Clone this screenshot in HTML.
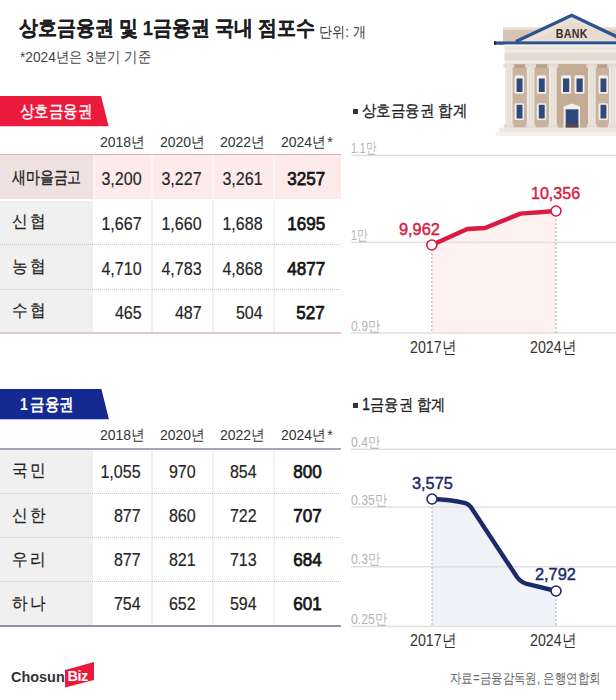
<!DOCTYPE html>
<html><head><meta charset="utf-8">
<style>
*{margin:0;padding:0;box-sizing:border-box}
html,body{width:616px;height:700px;overflow:hidden;background:#fff}
body{position:relative;font-family:"Liberation Sans",sans-serif;color:#222}
.a{position:absolute;white-space:nowrap;line-height:1;transform-origin:0 0}
.ar{text-align:right;transform-origin:100% 0}
</style></head><body>
<div class="a" style="left:19.03px;top:17.98px;font-size:20.5px;font-weight:bold;color:#1e1e1e;transform:scaleX(0.901);-webkit-text-stroke:0.25px #1e1e1e">상호금융권 및 1금융권 국내 점포수</div>
<div class="a" style="left:318.66px;top:23.73px;font-size:15.4px;font-weight:normal;color:#333;transform:scaleX(0.872);">단위: 개</div>
<div class="a" style="left:19.86px;top:49.48px;font-size:15.4px;font-weight:normal;color:#444;transform:scaleX(0.889);">*2024년은 3분기 기준</div>
<svg class="a" style="left:488px;top:8px" width="128" height="130" viewBox="488 8 128 130">
  <rect x="503" y="27.6" width="113" height="14" fill="#d6c3b1"/>
  <rect x="503" y="27.6" width="113" height="2.6" fill="#e8ddd2"/>
  <polygon points="518,41.6 571.7,16 628,41.6" fill="#ebe1d7"/>
  <polygon points="530,41.6 571.7,22 616,36 616,41.6" fill="#e6dbd0"/>
  <polyline points="516,41.5 571.7,15.2 632,44" fill="none" stroke="#2b5390" stroke-width="3.2" stroke-linejoin="miter"/>
  <text x="0" y="0" transform="translate(571.8 37.7) scale(0.82 1)" text-anchor="middle" font-family="Liberation Sans" font-weight="bold" font-size="13" fill="#3d3029" letter-spacing="0.4">BANK</text>
  <rect x="494" y="41.4" width="122" height="3.3" fill="#2b5390"/>
  <rect x="494" y="41.4" width="2.2" height="3.3" fill="#1b2c4d"/>
  <rect x="504.5" y="44.7" width="111.5" height="19.6" fill="#ece5dd"/>
  <rect x="504.5" y="44.7" width="111.5" height="1.6" fill="#f6f2ed"/>
  <rect x="504.5" y="50" width="111.5" height="1.2" fill="#f7f3ef"/>
  <rect x="504.5" y="53.6" width="111.5" height="6.4" fill="#e2d9d0"/>
  <rect x="504.5" y="61.3" width="111.5" height="1.2" fill="#f6f1ec"/>
  <rect x="505" y="64.3" width="111" height="63.4" fill="#c9b29e"/>
  <rect x="505" y="64.3" width="111" height="3.5" fill="#b9a08b"/>
  <rect x="557" y="64.3" width="31" height="63.4" fill="#c3ab96"/>
  <g fill="#f3eee8">
    <rect x="514.5" y="75.3" width="9.5" height="18.5" rx="1.5"/>
    <rect x="536.8" y="75.3" width="9.5" height="18.5" rx="1.5"/>
    <rect x="561" y="75.3" width="10" height="18.5" rx="1.5"/>
    <rect x="574.5" y="75.3" width="10" height="18.5" rx="1.5"/>
    <rect x="598.5" y="75.3" width="9.5" height="18.5" rx="1.5"/>
    <rect x="514.5" y="103.2" width="9.5" height="16.8" rx="1.5"/>
    <rect x="536.8" y="103.2" width="9.5" height="16.8" rx="1.5"/>
    <rect x="598.5" y="103.2" width="9.5" height="16.8" rx="1.5"/>
    <polygon points="563.6,127.7 563.6,106.5 571.8,103.6 580,106.5 580,127.7"/>
  </g>
  <g fill="#2e4a7c">
    <rect x="516.6" y="78.5" width="5.9" height="13.5"/>
    <rect x="538.8" y="78.5" width="5.9" height="13.5"/>
    <rect x="563" y="78.5" width="6.2" height="13.5"/>
    <rect x="576.5" y="78.5" width="6.2" height="13.5"/>
    <rect x="600.5" y="78.5" width="5.9" height="13.5"/>
    <rect x="516.6" y="104.8" width="5.9" height="13.7"/>
    <rect x="538.8" y="104.8" width="5.9" height="13.7"/>
    <rect x="600.5" y="104.8" width="5.9" height="13.7"/>
    <rect x="565.7" y="109.3" width="12.7" height="18.4"/>
  </g>
  <rect x="565.7" y="124" width="12.7" height="3.7" fill="#5a4a45"/>
  <g fill="#eee8e1">
    <rect x="505" y="64.3" width="7.6" height="63.4"/>
    <rect x="526.8" y="64.3" width="7.6" height="63.4"/>
    <rect x="549" y="64.3" width="7.6" height="63.4"/>
    <rect x="588.1" y="64.3" width="7.6" height="63.4"/>
    <rect x="608.9" y="64.3" width="7.6" height="63.4"/>
  </g>
  <g fill="#e4ddd5">
    <rect x="503.3" y="64.3" width="11" height="3.2"/>
    <rect x="525.1" y="64.3" width="11" height="3.2"/>
    <rect x="547.3" y="64.3" width="11" height="3.2"/>
    <rect x="586.4" y="64.3" width="11" height="3.2"/>
    <rect x="607.2" y="64.3" width="11" height="3.2"/>
    <rect x="503.8" y="124.5" width="10" height="3.2"/>
    <rect x="525.6" y="124.5" width="10" height="3.2"/>
    <rect x="547.8" y="124.5" width="10" height="3.2"/>
    <rect x="586.9" y="124.5" width="10" height="3.2"/>
    <rect x="607.7" y="124.5" width="10" height="3.2"/>
  </g>
  <g fill="#ddd5cc">
    <rect x="507.5" y="68" width="0.8" height="56"/>
    <rect x="509.8" y="68" width="0.8" height="56"/>
    <rect x="529.3" y="68" width="0.8" height="56"/>
    <rect x="531.6" y="68" width="0.8" height="56"/>
    <rect x="551.5" y="68" width="0.8" height="56"/>
    <rect x="553.8" y="68" width="0.8" height="56"/>
    <rect x="590.6" y="68" width="0.8" height="56"/>
    <rect x="592.9" y="68" width="0.8" height="56"/>
    <rect x="611.4" y="68" width="0.8" height="56"/>
    <rect x="613.7" y="68" width="0.8" height="56"/>
  </g>
  <rect x="499.2" y="127.7" width="116.8" height="4.1" fill="#eee8e2"/>
  <rect x="496" y="131.8" width="120" height="4.1" fill="#f4f0eb"/>
</svg>

<svg class="a" style="left:0;top:96px" width="112" height="31"><polygon points="0,0 101.1,0 108.6,30.3 0,30.3" fill="#eb1a3c"/></svg>
<div class="a" style="left:20.47px;top:103.08px;font-size:16.5px;font-weight:normal;color:#fff;transform:scaleX(0.852);-webkit-text-stroke:0.35px #fff">상호금융권</div>
<div class="a" style="left:100.30px;top:133.50px;font-size:15.4px;font-weight:normal;color:#333;transform:scaleX(0.909);">2018년</div>
<div class="a" style="left:159.60px;top:133.50px;font-size:15.4px;font-weight:normal;color:#333;transform:scaleX(0.909);">2020년</div>
<div class="a" style="left:219.80px;top:133.50px;font-size:15.4px;font-weight:normal;color:#333;transform:scaleX(0.909);">2022년</div>
<div class="a" style="left:280.50px;top:133.50px;font-size:15.4px;font-weight:normal;color:#333;transform:scaleX(0.909);">2024년<span style="margin-left:1.5px">*</span></div>
<div class="a" style="left:0px;top:154px;width:341px;height:1.2px;background:#dcb0b5;"></div>
<div class="a" style="left:0px;top:155px;width:93px;height:44px;background:#efe0e1;"></div>
<div class="a" style="left:95px;top:155px;width:56px;height:44px;background:#fdebec;"></div>
<div class="a" style="left:153px;top:155px;width:59px;height:44px;background:#fdebec;"></div>
<div class="a" style="left:214px;top:155px;width:59px;height:44px;background:#fdebec;"></div>
<div class="a" style="left:275px;top:155px;width:66px;height:44px;background:#fdebec;"></div>
<div class="a" style="left:93px;top:155px;width:2px;height:44px;background:#fbf3f4;"></div>
<div class="a" style="left:151px;top:155px;width:2px;height:44px;background:#fbf3f4;"></div>
<div class="a" style="left:212px;top:155px;width:2px;height:44px;background:#fbf3f4;"></div>
<div class="a" style="left:273px;top:155px;width:2px;height:44px;background:#fbf3f4;"></div>
<div class="a" style="left:0px;top:201px;width:93px;height:131.5px;background:#f0f0f0;"></div>
<div class="a" style="left:95px;top:201px;width:246px;height:131.5px;background:#ffffff;"></div>
<div class="a" style="left:151px;top:201px;width:2px;height:131.5px;background:#f2f2f2;"></div>
<div class="a" style="left:212px;top:201px;width:2px;height:131.5px;background:#f2f2f2;"></div>
<div class="a" style="left:273px;top:201px;width:2px;height:131.5px;background:#f2f2f2;"></div>
<div class="a" style="left:0;top:244px;width:341px;height:0;border-top:1px dotted #c9c9c9"></div>
<div class="a" style="left:0;top:288.5px;width:341px;height:0;border-top:1px dotted #c9c9c9"></div>
<div class="a" style="left:0px;top:332.3px;width:341px;height:1.6px;background:#e6c6cb;"></div>
<div class="a" style="left:12.35px;top:169.05px;font-size:17px;font-weight:normal;color:#222;transform:scaleX(0.816);-webkit-text-stroke:0.35px #222">새마을금고</div>
<div class="a" style="left:12.00px;top:213.40px;font-size:17px;font-weight:normal;color:#222;transform:scaleX(0.92);letter-spacing:2.6px;-webkit-text-stroke:0.2px #222">신협</div>
<div class="a" style="left:12.00px;top:257.55px;font-size:17px;font-weight:normal;color:#222;transform:scaleX(0.92);letter-spacing:2.6px;-webkit-text-stroke:0.2px #222">농협</div>
<div class="a" style="left:12.00px;top:301.90px;font-size:17px;font-weight:normal;color:#222;transform:scaleX(0.92);letter-spacing:2.6px;-webkit-text-stroke:0.2px #222">수협</div>
<div class="a ar" style="right:474.00px;top:168.80px;font-size:19px;font-weight:normal;color:#262626;transform:scaleX(0.844);-webkit-text-stroke:0.2px #262626">3,200</div>
<div class="a ar" style="right:414.80px;top:168.80px;font-size:19px;font-weight:normal;color:#262626;transform:scaleX(0.844);-webkit-text-stroke:0.2px #262626">3,227</div>
<div class="a ar" style="right:353.30px;top:168.80px;font-size:19px;font-weight:normal;color:#262626;transform:scaleX(0.844);-webkit-text-stroke:0.2px #262626">3,261</div>
<div class="a ar" style="right:291.00px;top:168.80px;font-size:19px;font-weight:normal;color:#141414;transform:scaleX(0.898);-webkit-text-stroke:0.75px #141414">3257</div>
<div class="a ar" style="right:474.00px;top:213.50px;font-size:19px;font-weight:normal;color:#262626;transform:scaleX(0.844);-webkit-text-stroke:0.2px #262626">1,667</div>
<div class="a ar" style="right:414.80px;top:213.50px;font-size:19px;font-weight:normal;color:#262626;transform:scaleX(0.844);-webkit-text-stroke:0.2px #262626">1,660</div>
<div class="a ar" style="right:353.30px;top:213.50px;font-size:19px;font-weight:normal;color:#262626;transform:scaleX(0.844);-webkit-text-stroke:0.2px #262626">1,688</div>
<div class="a ar" style="right:291.00px;top:213.50px;font-size:19px;font-weight:normal;color:#141414;transform:scaleX(0.898);-webkit-text-stroke:0.75px #141414">1695</div>
<div class="a ar" style="right:474.00px;top:258.50px;font-size:19px;font-weight:normal;color:#262626;transform:scaleX(0.844);-webkit-text-stroke:0.2px #262626">4,710</div>
<div class="a ar" style="right:414.80px;top:258.50px;font-size:19px;font-weight:normal;color:#262626;transform:scaleX(0.844);-webkit-text-stroke:0.2px #262626">4,783</div>
<div class="a ar" style="right:353.30px;top:258.50px;font-size:19px;font-weight:normal;color:#262626;transform:scaleX(0.844);-webkit-text-stroke:0.2px #262626">4,868</div>
<div class="a ar" style="right:291.00px;top:258.50px;font-size:19px;font-weight:normal;color:#141414;transform:scaleX(0.898);-webkit-text-stroke:0.75px #141414">4877</div>
<div class="a ar" style="right:474.00px;top:303.20px;font-size:19px;font-weight:normal;color:#262626;transform:scaleX(0.844);-webkit-text-stroke:0.2px #262626">465</div>
<div class="a ar" style="right:414.80px;top:303.20px;font-size:19px;font-weight:normal;color:#262626;transform:scaleX(0.844);-webkit-text-stroke:0.2px #262626">487</div>
<div class="a ar" style="right:353.30px;top:303.20px;font-size:19px;font-weight:normal;color:#262626;transform:scaleX(0.844);-webkit-text-stroke:0.2px #262626">504</div>
<div class="a ar" style="right:291.00px;top:303.20px;font-size:19px;font-weight:normal;color:#141414;transform:scaleX(0.898);-webkit-text-stroke:0.75px #141414">527</div>
<div class="a" style="left:353px;top:109.4px;width:5px;height:5px;background:#333;"></div>
<div class="a" style="left:361.93px;top:102.44px;font-size:16.2px;font-weight:normal;color:#222;transform:scaleX(0.902);-webkit-text-stroke:0.3px #222">상호금융권 합계</div>
<svg class="a" style="left:340px;top:140px" width="276" height="230" viewBox="340 140 276 230">
  <polygon points="431.8,245 467.3,229 485,228 520.5,213.6 556,211 556,333 431.8,333" fill="#fef1f2"/>
  <rect x="351" y="154.7" width="265" height="1.4" fill="#dedede"/>
  <rect x="351" y="241.6" width="265" height="1.4" fill="#dedede"/>
  <rect x="351" y="332.3" width="265" height="1.4" fill="#dedede"/>
  <line x1="431.8" y1="245" x2="431.8" y2="333" stroke="#c9a4aa" stroke-width="1" stroke-dasharray="2,2"/>
  <line x1="556" y1="211" x2="556" y2="333" stroke="#c9a4aa" stroke-width="1" stroke-dasharray="2,2"/>
  <polyline points="431.8,245 467.3,229 485,228 520.5,213.6 556,211" fill="none" stroke="#da1a41" stroke-width="4.4" stroke-linejoin="round"/>
  <circle cx="431.8" cy="245" r="5" fill="#fff" stroke="#da1a41" stroke-width="1.6"/>
  <circle cx="556" cy="211" r="5" fill="#fff" stroke="#da1a41" stroke-width="1.6"/>
</svg>
<div class="a" style="left:350.88px;top:140.00px;font-size:15px;font-weight:normal;color:#b4b4b4;transform:scaleX(0.7);">1.1만</div>
<div class="a" style="left:350.88px;top:226.90px;font-size:15px;font-weight:normal;color:#b4b4b4;transform:scaleX(0.7);">1만</div>
<div class="a" style="left:350.88px;top:317.60px;font-size:15px;font-weight:normal;color:#b4b4b4;transform:scaleX(0.82);">0.9만</div>
<div class="a" style="left:399.29px;top:221.05px;font-size:17px;font-weight:normal;color:#da1a41;transform:scaleX(0.961);-webkit-text-stroke:0.45px #da1a41">9,962</div>
<div class="a" style="left:530.59px;top:184.50px;font-size:17px;font-weight:normal;color:#da1a41;transform:scaleX(0.945);-webkit-text-stroke:0.45px #da1a41">10,356</div>
<div class="a" style="left:410.09px;top:339.05px;font-size:16.5px;font-weight:normal;color:#333;transform:scaleX(0.86);">2017년</div>
<div class="a" style="left:530.39px;top:339.05px;font-size:16.5px;font-weight:normal;color:#333;transform:scaleX(0.86);">2024년</div>
<svg class="a" style="left:0;top:389px" width="112" height="31"><polygon points="0,0 101.4,0 108.9,30.3 0,30.3" fill="#142a92"/></svg>
<div class="a" style="left:20.04px;top:395.58px;font-size:16.5px;font-weight:bold;color:#fff;transform:scaleX(0.852);"><span style="margin-right:3px">1</span>금융권</div>
<div class="a" style="left:100.30px;top:427.45px;font-size:15.4px;font-weight:normal;color:#333;transform:scaleX(0.909);">2018년</div>
<div class="a" style="left:159.60px;top:427.45px;font-size:15.4px;font-weight:normal;color:#333;transform:scaleX(0.909);">2020년</div>
<div class="a" style="left:219.80px;top:427.45px;font-size:15.4px;font-weight:normal;color:#333;transform:scaleX(0.909);">2022년</div>
<div class="a" style="left:280.50px;top:427.45px;font-size:15.4px;font-weight:normal;color:#333;transform:scaleX(0.909);">2024년<span style="margin-left:1.5px">*</span></div>
<div class="a" style="left:0px;top:448.2px;width:341px;height:1.6px;background:#a3a6b8;"></div>
<div class="a" style="left:0px;top:450px;width:93px;height:176px;background:#f0f0f0;"></div>
<div class="a" style="left:95px;top:450px;width:246px;height:176px;background:#ffffff;"></div>
<div class="a" style="left:151px;top:450px;width:2px;height:176px;background:#f2f2f2;"></div>
<div class="a" style="left:212px;top:450px;width:2px;height:176px;background:#f2f2f2;"></div>
<div class="a" style="left:273px;top:450px;width:2px;height:176px;background:#f2f2f2;"></div>
<div class="a" style="left:0;top:493px;width:341px;height:0;border-top:1px dotted #c9c9c9"></div>
<div class="a" style="left:0;top:537px;width:341px;height:0;border-top:1px dotted #c9c9c9"></div>
<div class="a" style="left:0;top:581px;width:341px;height:0;border-top:1px dotted #c9c9c9"></div>
<div class="a" style="left:0px;top:625.4px;width:341px;height:1.5px;background:#8f93a3;"></div>
<div class="a" style="left:12.00px;top:462.35px;font-size:17px;font-weight:normal;color:#222;transform:scaleX(0.92);letter-spacing:2.6px;-webkit-text-stroke:0.2px #222">국민</div>
<div class="a" style="left:12.00px;top:506.75px;font-size:17px;font-weight:normal;color:#222;transform:scaleX(0.92);letter-spacing:2.6px;-webkit-text-stroke:0.2px #222">신한</div>
<div class="a" style="left:12.00px;top:550.65px;font-size:17px;font-weight:normal;color:#222;transform:scaleX(0.92);letter-spacing:2.6px;-webkit-text-stroke:0.2px #222">우리</div>
<div class="a" style="left:12.00px;top:594.65px;font-size:17px;font-weight:normal;color:#222;transform:scaleX(0.92);letter-spacing:2.6px;-webkit-text-stroke:0.2px #222">하나</div>
<div class="a ar" style="right:475.70px;top:462.00px;font-size:19px;font-weight:normal;color:#262626;transform:scaleX(0.844);-webkit-text-stroke:0.2px #262626">1,055</div>
<div class="a ar" style="right:420.00px;top:462.00px;font-size:19px;font-weight:normal;color:#262626;transform:scaleX(0.844);-webkit-text-stroke:0.2px #262626">970</div>
<div class="a ar" style="right:359.40px;top:462.00px;font-size:19px;font-weight:normal;color:#262626;transform:scaleX(0.844);-webkit-text-stroke:0.2px #262626">854</div>
<div class="a ar" style="right:294.80px;top:462.00px;font-size:19px;font-weight:normal;color:#141414;transform:scaleX(0.898);-webkit-text-stroke:0.75px #141414">800</div>
<div class="a ar" style="right:475.70px;top:506.40px;font-size:19px;font-weight:normal;color:#262626;transform:scaleX(0.844);-webkit-text-stroke:0.2px #262626">877</div>
<div class="a ar" style="right:420.00px;top:506.40px;font-size:19px;font-weight:normal;color:#262626;transform:scaleX(0.844);-webkit-text-stroke:0.2px #262626">860</div>
<div class="a ar" style="right:359.40px;top:506.40px;font-size:19px;font-weight:normal;color:#262626;transform:scaleX(0.844);-webkit-text-stroke:0.2px #262626">722</div>
<div class="a ar" style="right:294.80px;top:506.40px;font-size:19px;font-weight:normal;color:#141414;transform:scaleX(0.898);-webkit-text-stroke:0.75px #141414">707</div>
<div class="a ar" style="right:475.70px;top:550.30px;font-size:19px;font-weight:normal;color:#262626;transform:scaleX(0.844);-webkit-text-stroke:0.2px #262626">877</div>
<div class="a ar" style="right:420.00px;top:550.30px;font-size:19px;font-weight:normal;color:#262626;transform:scaleX(0.844);-webkit-text-stroke:0.2px #262626">821</div>
<div class="a ar" style="right:359.40px;top:550.30px;font-size:19px;font-weight:normal;color:#262626;transform:scaleX(0.844);-webkit-text-stroke:0.2px #262626">713</div>
<div class="a ar" style="right:294.80px;top:550.30px;font-size:19px;font-weight:normal;color:#141414;transform:scaleX(0.898);-webkit-text-stroke:0.75px #141414">684</div>
<div class="a ar" style="right:475.70px;top:594.30px;font-size:19px;font-weight:normal;color:#262626;transform:scaleX(0.844);-webkit-text-stroke:0.2px #262626">754</div>
<div class="a ar" style="right:420.00px;top:594.30px;font-size:19px;font-weight:normal;color:#262626;transform:scaleX(0.844);-webkit-text-stroke:0.2px #262626">652</div>
<div class="a ar" style="right:359.40px;top:594.30px;font-size:19px;font-weight:normal;color:#262626;transform:scaleX(0.844);-webkit-text-stroke:0.2px #262626">594</div>
<div class="a ar" style="right:294.80px;top:594.30px;font-size:19px;font-weight:normal;color:#141414;transform:scaleX(0.898);-webkit-text-stroke:0.75px #141414">601</div>
<div class="a" style="left:353px;top:403px;width:5px;height:5px;background:#333;"></div>
<div class="a" style="left:361.92px;top:396.19px;font-size:16.2px;font-weight:normal;color:#222;transform:scaleX(0.891);-webkit-text-stroke:0.3px #222">1금융권 합계</div>
<svg class="a" style="left:340px;top:430px" width="276" height="210" viewBox="340 430 276 210">
  <path d="M432,499 Q450,499.4 465.5,503.2 Q469,504.4 471,507.3 L517,577 Q521,582.2 526,583.6 L556,591 L556,626 L432,626 Z" fill="#f0f2f7"/>
  <rect x="351" y="448.6" width="265" height="1.4" fill="#dedede"/>
  <rect x="351" y="506.4" width="265" height="1.4" fill="#dedede"/>
  <rect x="351" y="566.1" width="265" height="1.4" fill="#dedede"/>
  <rect x="351" y="625.7" width="265" height="1.4" fill="#dedede"/>
  <line x1="432" y1="499" x2="432" y2="626" stroke="#a9adbd" stroke-width="1" stroke-dasharray="2,2"/>
  <line x1="556" y1="591" x2="556" y2="626" stroke="#a9adbd" stroke-width="1" stroke-dasharray="2,2"/>
  <path d="M432,499 Q450,499.4 465.5,503.2 Q469,504.4 471,507.3 L517,577 Q521,582.2 526,583.6 L556,591" fill="none" stroke="#1b2a6b" stroke-width="4.4" stroke-linejoin="round"/>
  <circle cx="432" cy="499" r="5" fill="#fff" stroke="#1b2a6b" stroke-width="1.6"/>
  <circle cx="556" cy="591" r="5" fill="#fff" stroke="#1b2a6b" stroke-width="1.6"/>
</svg>
<div class="a" style="left:350.88px;top:433.90px;font-size:15px;font-weight:normal;color:#b4b4b4;transform:scaleX(0.82);">0.4만</div>
<div class="a" style="left:350.88px;top:491.70px;font-size:15px;font-weight:normal;color:#b4b4b4;transform:scaleX(0.82);">0.35만</div>
<div class="a" style="left:350.88px;top:551.40px;font-size:15px;font-weight:normal;color:#b4b4b4;transform:scaleX(0.82);">0.3만</div>
<div class="a" style="left:350.88px;top:611.00px;font-size:15px;font-weight:normal;color:#b4b4b4;transform:scaleX(0.82);">0.25만</div>
<div class="a" style="left:411.79px;top:474.95px;font-size:17px;font-weight:normal;color:#1b2a6b;transform:scaleX(0.961);-webkit-text-stroke:0.45px #1b2a6b">3,575</div>
<div class="a" style="left:535.49px;top:566.35px;font-size:17px;font-weight:normal;color:#1b2a6b;transform:scaleX(0.961);-webkit-text-stroke:0.45px #1b2a6b">2,792</div>
<div class="a" style="left:410.09px;top:631.65px;font-size:16.5px;font-weight:normal;color:#333;transform:scaleX(0.86);">2017년</div>
<div class="a" style="left:530.39px;top:631.65px;font-size:16.5px;font-weight:normal;color:#333;transform:scaleX(0.86);">2024년</div>
<div class="a" style="left:11.48px;top:668.78px;font-size:15.2px;font-weight:bold;color:#333;transform:scaleX(0.951);">Chosun</div>
<svg class="a" style="left:64px;top:661px" width="32" height="28"><polygon points="1,9 30,1 30,19 1,26.5" fill="#eb1a3c"/><text x="3.5" y="20" font-family="Liberation Sans" font-weight="bold" font-size="14.5" fill="#fff" letter-spacing="-0.5">Biz</text></svg>
<div class="a" style="left:450.23px;top:670.90px;font-size:14px;font-weight:normal;color:#666;transform:scaleX(0.819);">자료=금융감독원, 은행연합회</div>
</body></html>
